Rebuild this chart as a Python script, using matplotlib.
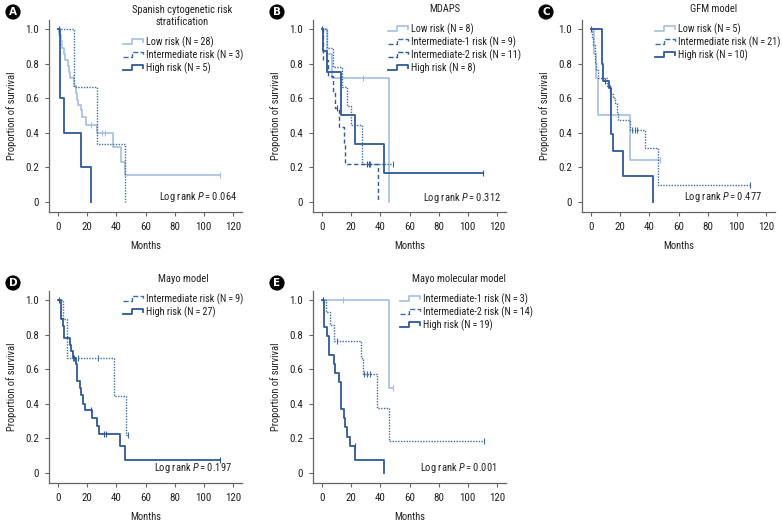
import matplotlib.pyplot as plt
from matplotlib import font_manager
from matplotlib.lines import Line2D
from matplotlib.legend_handler import HandlerBase

W, H = 782, 523
installed = set(f.name for f in font_manager.fontManager.ttflist)
FONT = next((f for f in ['Roboto Condensed', 'IBM Plex Sans Condensed', 'Roboto', 'DejaVu Sans']
             if f in installed), 'DejaVu Sans')
plt.rcParams['font.family'] = [FONT, 'DejaVu Sans']
plt.rcParams['mathtext.fontset'] = 'custom'
plt.rcParams['mathtext.rm'] = FONT
plt.rcParams['mathtext.it'] = FONT + ':italic'
FS = 7.6
LEG_FS = 7.35
plt.rcParams['font.size'] = FS

LIGHT = '#a6bfe0'
MID = '#3f6cab'
DARK = '#2e5a97'
TXT = '#222222'

# ---- data (months, survival after each event, censor times) ----
# A: Spanish cytogenetic risk
a_low_t = [1, 2, 3, 4, 5, 6.5, 7.5, 8.5, 11, 12, 13, 14, 15.5, 16.5, 19, 27, 37.7, 43, 46]
a_low_s = [0.964, 0.929, 0.893, 0.857, 0.821, 0.786, 0.75, 0.714, 0.672, 0.63, 0.588, 0.56,
           0.53, 0.49, 0.445, 0.40, 0.315, 0.233, 0.156]
a_low_c = [10.3, 22.4, 30, 32, 111]
a_int_t = [11, 27, 46]
a_int_s = [0.667, 0.333, 0]
a_int_c = []
a_high_t = [1.1, 3.9, 15.5, 22.9]
a_high_s = [0.6, 0.4, 0.2, 0]
a_high_c = [0.5]

# B: MDAPS
b_low_t = [3.5, 6.5, 46]
b_low_s = [0.857, 0.714, 0]
b_low_c = [28]
b_int1_t = [3.4, 7.5, 14, 17, 20, 27.5]
b_int1_s = [0.889, 0.778, 0.667, 0.556, 0.444, 0.222]
b_int1_c = [33, 48.4]
b_int2_t = [1.0, 4, 7.5, 9, 11.5, 15, 16, 38.5]
b_int2_s = [0.818, 0.727, 0.636, 0.545, 0.436, 0.327, 0.218, 0]
b_int2_c = [10, 31, 32.5]
b_high_t = [0.8, 3.4, 13.2, 22.8, 42.7]
b_high_s = [0.875, 0.75, 0.5, 0.333, 0.167]
b_high_c = [0.3, 110.6]

# C: GFM model
c_low_t = [2.0, 3.5, 4.7, 26.4]
c_low_s = [0.857, 0.714, 0.5, 0.24]
c_low_c = [47.5]
c_int_t = [0.5, 1.5, 2.5, 3.0, 3.5, 5.0, 11, 13, 14.9, 16.4, 17.6, 18.7, 26.6, 36.7, 45.7]
c_int_s = [0.952, 0.905, 0.857, 0.81, 0.762, 0.714, 0.67, 0.625, 0.6, 0.57, 0.52, 0.476,
           0.415, 0.31, 0.10]
c_int_c = [28, 30.4, 31.7, 109]
c_high_t = [7.5, 8.5, 12.5, 13.8, 14.8, 22, 42.5]
c_high_s = [0.8, 0.7, 0.656, 0.394, 0.295, 0.148, 0]
c_high_c = [0.3, 9.5, 13.2]

# D: Mayo model
d_int_t = [3.2, 6.3, 38.3, 46.3]
d_int_s = [0.889, 0.667, 0.444, 0.222]
d_int_c = [10.3, 13.5, 27.5, 48.1]
d_high_t = [1.8, 3.4, 4.4, 8.0, 9.0, 10.5, 12.5, 13.3, 15.0, 16.0, 17.0, 18.8, 23.0, 27.0,
            28.0, 42.7, 46.0]
d_high_s = [0.889, 0.852, 0.778, 0.741, 0.704, 0.667, 0.63, 0.53, 0.49, 0.45, 0.40, 0.366,
            0.318, 0.27, 0.224, 0.155, 0.075]
d_high_c = [0.5, 11, 22.4, 31.6, 33.2, 111]

# E: Mayo molecular model
e_int1_t = [46.2]
e_int1_s = [0.49]
e_int1_c = [0.8, 14.2, 48.5]
e_int2_t = [2.7, 5.7, 8.0, 27.0, 28.0, 37.7, 46.2]
e_int2_s = [0.929, 0.857, 0.765, 0.667, 0.573, 0.377, 0.186]
e_int2_c = [10.3, 28.6, 30.9, 33.2, 111]
e_high_t = [1.1, 3.4, 4.6, 8.0, 9.2, 11.4, 13.3, 15.0, 16.0, 17.0, 19.4, 22.9, 42.7]
e_high_s = [0.842, 0.789, 0.684, 0.632, 0.579, 0.526, 0.368, 0.316, 0.263, 0.21, 0.158,
            0.074, 0]
e_high_c = [0.5, 22.4]

xticks = [0, 20, 40, 60, 80, 100, 120]
yticks = [0, 0.2, 0.4, 0.6, 0.8, 1.0]
ylabels = ['0', '0.2', '0.4', '0.6', '0.8', '1.0']


class StepHandler(HandlerBase):
    def create_artists(self, legend, orig, xd, yd, width, height, fontsize, trans):
        x0, y0 = -xd, -yd
        xs = [x0, x0 + 0.45 * width, x0 + 0.45 * width, x0 + width, x0 + width]
        ys = [y0 + 0.1 * height, y0 + 0.1 * height, y0 + 0.85 * height,
              y0 + 0.85 * height, y0 + 0.45 * height]
        ln = Line2D(xs, ys, color=orig.get_color(), lw=orig.get_linewidth(),
                    ls=orig.get_linestyle(), transform=trans)
        return [ln]


def surv_at(t, s, c):
    v = 1.0
    for ti, si in zip(t, s):
        if ti <= c:
            v = si
    return v


def km(ax, t, s, cens, label, **kw):
    end = max([t[-1]] + cens)
    xs = [0] + t + [end]
    ys = [1.0] + s + [s[-1]]
    ln, = ax.step(xs, ys, where='post', label=label, **kw)
    if cens:
        ax.plot(cens, [surv_at(t, s, c) for c in cens], ls='none', marker='|',
                ms=4, mew=0.8, color=kw['color'])
    return ln


def panel(left_px, top_px, letter, title, title_xy, pval, pval_xy):
    ax = fig.add_axes([left_px / W, 1 - (top_px + 192) / H, 193 / W, 192 / H])
    ax.set_xlim(-6.2, 126.2)
    ax.set_ylim(-0.058, 1.052)
    for sp in ['top', 'right']:
        ax.spines[sp].set_visible(False)
    for sp in ['left', 'bottom']:
        ax.spines[sp].set_color('#666666')
        ax.spines[sp].set_linewidth(0.9)
    ax.set_xticks(xticks)
    ax.set_yticks(yticks)
    ax.set_yticklabels(ylabels)
    ax.tick_params(direction='out', length=3, width=0.8, color='#666666', pad=4,
                   labelsize=FS + 0.3, labelcolor=TXT)
    ax.set_xlabel('Months', fontsize=FS, color=TXT)
    ax.set_ylabel('Proportion of survival', fontsize=FS, color=TXT)
    ax.xaxis.set_label_coords(0.5, -0.15)
    ax.yaxis.set_label_coords(-0.165, 0.5)
    fig.text(left_px / W - 36 / W, 1 - (top_px - 8) / H, letter, color='white',
             fontweight='bold', fontsize=7.5, ha='center', va='center',
             family='DejaVu Sans',
             bbox=dict(boxstyle='circle,pad=0.25', fc='black', ec='none'))
    fig.text(title_xy[0] / W, 1 - title_xy[1] / H, title, ha='center', va='center',
             fontsize=FS, color=TXT, linespacing=1.3)
    ax.text(pval_xy[0], pval_xy[1], 'Log rank $P$\u2009=\u2009' + pval, ha='right',
            va='center', fontsize=FS, color=TXT)
    return ax


def add_legend(ax, xy):
    ax.legend(loc='upper left', bbox_to_anchor=(xy[0] / W, 1 - xy[1] / H),
              bbox_transform=fig.transFigure, frameon=False, borderpad=0,
              borderaxespad=0, handlelength=1.95, handletextpad=0.3,
              labelspacing=0.15, fontsize=LEG_FS, labelcolor=TXT,
              handler_map={Line2D: StepHandler()})


fig = plt.figure(figsize=(W / 100, H / 100), dpi=100)

# A
ax = panel(49, 20, 'A', 'Spanish cytogenetic risk\nstratification', (182, 16), '0.064',
           (122.8, 0.03))
km(ax, a_low_t, a_low_s, a_low_c, 'Low risk (N\u2009=\u200928)', color=LIGHT, lw=1.2)
km(ax, a_int_t, a_int_s, a_int_c, 'Intermediate risk (N\u2009=\u20093)', color=MID, lw=1.0,
   ls=(0, (1, 1)))
km(ax, a_high_t, a_high_s, a_high_c, 'High risk (N\u2009=\u20095)', color=DARK, lw=1.3)
add_legend(ax, (123, 36))

# B
ax = panel(313, 20, 'B', 'MDAPS', (445, 9), '0.312', (122.6, 0.023))
km(ax, b_low_t, b_low_s, b_low_c, 'Low risk (N\u2009=\u20098)', color=LIGHT, lw=1.2)
km(ax, b_int1_t, b_int1_s, b_int1_c, 'Intermediate-1 risk (N\u2009=\u20099)', color=MID,
   lw=1.0, ls=(0, (1, 1)))
km(ax, b_int2_t, b_int2_s, b_int2_c, 'Intermediate-2 risk (N\u2009=\u200911)', color=DARK,
   lw=1.0, ls=(0, (3, 2)))
km(ax, b_high_t, b_high_s, b_high_c, 'High risk (N\u2009=\u20098)', color=DARK, lw=1.3)
add_legend(ax, (388, 23))

# C
ax = panel(582, 20, 'C', 'GFM model', (714, 9), '0.477', (117, 0.03))
km(ax, c_low_t, c_low_s, c_low_c, 'Low risk (N\u2009=\u20095)', color=LIGHT, lw=1.2)
km(ax, c_int_t, c_int_s, c_int_c, 'Intermediate risk (N\u2009=\u200921)', color=MID, lw=1.0,
   ls=(0, (1, 1)))
km(ax, c_high_t, c_high_s, c_high_c, 'High risk (N\u2009=\u200910)', color=DARK, lw=1.3)
add_legend(ax, (655, 23))

# D
ax = panel(49, 291, 'D', 'Mayo model', (183, 279), '0.197', (119.5, 0.03))
km(ax, d_int_t, d_int_s, d_int_c, 'Intermediate risk (N\u2009=\u20099)', color=MID, lw=1.0,
   ls=(0, (1, 1)))
km(ax, d_high_t, d_high_s, d_high_c, 'High risk (N\u2009=\u200927)', color=DARK, lw=1.3)
add_legend(ax, (123, 293))

# E
ax = panel(313, 291, 'E', 'Mayo molecular model', (459, 279), '0.001', (119.5, 0.03))
km(ax, e_int1_t, e_int1_s, e_int1_c, 'Intermediate-1 risk (N\u2009=\u20093)', color=LIGHT,
   lw=1.2)
km(ax, e_int2_t, e_int2_s, e_int2_c, 'Intermediate-2 risk (N\u2009=\u200914)', color=MID,
   lw=1.0, ls=(0, (1, 1)))
km(ax, e_high_t, e_high_s, e_high_c, 'High risk (N\u2009=\u200919)', color=DARK, lw=1.3)
add_legend(ax, (400, 293))

fig.savefig('out.png', dpi=100)
